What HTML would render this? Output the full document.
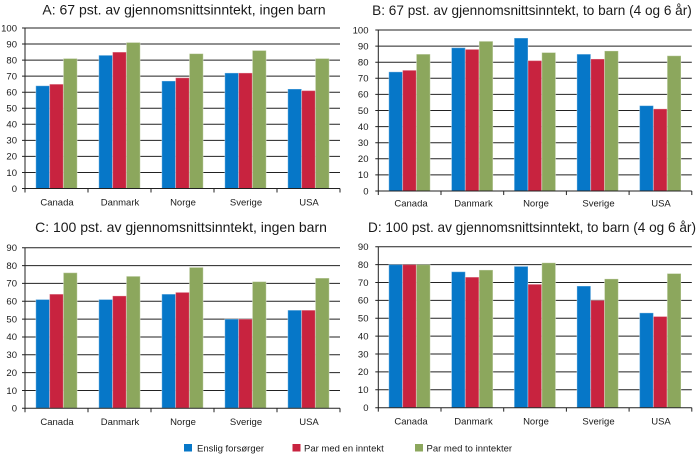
<!DOCTYPE html>
<html><head><meta charset="utf-8"><style>
html,body{margin:0;padding:0;background:#fff;}
svg{display:block;}
text{font-family:"Liberation Sans",Arial,sans-serif;fill:#1a1a1a;}
.t{font-size:14px;text-anchor:middle;}
.t2{font-size:13.6px;text-anchor:middle;}
.y{font-size:9.5px;text-anchor:end;}
.c{font-size:9.5px;text-anchor:middle;}
.l{font-size:9.5px;}
.g line{stroke:#222;stroke-width:1;vector-effect:non-scaling-stroke;}
.b rect{stroke:rgba(255,255,255,0.35);stroke-width:1;vector-effect:non-scaling-stroke;}
.bl{fill:#0677c8;} .rd{fill:#c8233f;} .gr{fill:#8ca75d;}
</style></head><body>
<svg width="700" height="455" viewBox="0 0 700 455" xmlns="http://www.w3.org/2000/svg">
<!-- Panel A -->
<text class="t" x="184" y="14.5">A: 67 pst. av gjennomsnittsinntekt, ingen barn</text>
<g transform="translate(25,188.5) scale(1,-1.605)">
 <g class="g">
  <line x1="-3" x2="315" y1="10" y2="10"/><line x1="-3" x2="315" y1="20" y2="20"/><line x1="-3" x2="315" y1="30" y2="30"/><line x1="-3" x2="315" y1="40" y2="40"/><line x1="-3" x2="315" y1="50" y2="50"/><line x1="-3" x2="315" y1="60" y2="60"/><line x1="-3" x2="315" y1="70" y2="70"/><line x1="-3" x2="315" y1="80" y2="80"/><line x1="-3" x2="315" y1="90" y2="90"/><line x1="-3" x2="315" y1="100" y2="100"/>
 </g>
 <g class="b">
  <rect class="bl" x="10.8" y="0" width="13.8" height="64"/><rect class="rd" x="24.6" y="0" width="13.8" height="65"/><rect class="gr" x="38.4" y="0" width="13.8" height="81"/>
  <rect class="bl" x="73.8" y="0" width="13.8" height="83"/><rect class="rd" x="87.6" y="0" width="13.8" height="85"/><rect class="gr" x="101.4" y="0" width="13.8" height="91"/>
  <rect class="bl" x="136.8" y="0" width="13.8" height="67"/><rect class="rd" x="150.6" y="0" width="13.8" height="69"/><rect class="gr" x="164.4" y="0" width="13.8" height="84"/>
  <rect class="bl" x="199.8" y="0" width="13.8" height="72"/><rect class="rd" x="213.6" y="0" width="13.8" height="72"/><rect class="gr" x="227.4" y="0" width="13.8" height="86"/>
  <rect class="bl" x="262.8" y="0" width="13.8" height="62"/><rect class="rd" x="276.6" y="0" width="13.8" height="61"/><rect class="gr" x="290.4" y="0" width="13.8" height="81"/>
 </g>
 <g class="g">
  <line x1="0" x2="0" y1="0" y2="100"/><line x1="-3" x2="315" y1="0" y2="0"/>
  <line x1="0" x2="0" y1="0" y2="-2.5"/><line x1="63" x2="63" y1="0" y2="-2.5"/><line x1="126" x2="126" y1="0" y2="-2.5"/><line x1="189" x2="189" y1="0" y2="-2.5"/><line x1="252" x2="252" y1="0" y2="-2.5"/><line x1="315" x2="315" y1="0" y2="-2.5"/>
 </g>
</g>
<text class="y" x="17" y="191.8">0</text><text class="y" x="17" y="175.8">10</text><text class="y" x="17" y="159.7">20</text><text class="y" x="17" y="143.7">30</text><text class="y" x="17" y="127.6">40</text><text class="y" x="17" y="111.6">50</text><text class="y" x="17" y="95.5">60</text><text class="y" x="17" y="79.5">70</text><text class="y" x="17" y="63.4">80</text><text class="y" x="17" y="47.4">90</text><text class="y" x="17" y="31.3">100</text>
<text class="c" x="57" y="205.5">Canada</text><text class="c" x="120" y="205.5">Danmark</text><text class="c" x="183" y="205.5">Norge</text><text class="c" x="246" y="205.5">Sverige</text><text class="c" x="309" y="205.5">USA</text>

<!-- Panel B -->
<text class="t2" x="532" y="15">B: 67 pst. av gjennomsnittsinntekt, to barn (4 og 6 år)</text>
<g transform="translate(378.3,191) scale(1,-1.61)">
 <g class="g">
  <line x1="-3" x2="313.5" y1="10" y2="10"/><line x1="-3" x2="313.5" y1="20" y2="20"/><line x1="-3" x2="313.5" y1="30" y2="30"/><line x1="-3" x2="313.5" y1="40" y2="40"/><line x1="-3" x2="313.5" y1="50" y2="50"/><line x1="-3" x2="313.5" y1="60" y2="60"/><line x1="-3" x2="313.5" y1="70" y2="70"/><line x1="-3" x2="313.5" y1="80" y2="80"/><line x1="-3" x2="313.5" y1="90" y2="90"/><line x1="-3" x2="313.5" y1="100" y2="100"/>
 </g>
 <g class="b">
  <rect class="bl" x="10.5" y="0" width="13.8" height="74"/><rect class="rd" x="24.3" y="0" width="13.8" height="75"/><rect class="gr" x="38.1" y="0" width="13.8" height="85"/>
  <rect class="bl" x="73.2" y="0" width="13.8" height="89"/><rect class="rd" x="87" y="0" width="13.8" height="88"/><rect class="gr" x="100.8" y="0" width="13.8" height="93"/>
  <rect class="bl" x="135.9" y="0" width="13.8" height="95"/><rect class="rd" x="149.7" y="0" width="13.8" height="81"/><rect class="gr" x="163.5" y="0" width="13.8" height="86"/>
  <rect class="bl" x="198.6" y="0" width="13.8" height="85"/><rect class="rd" x="212.4" y="0" width="13.8" height="82"/><rect class="gr" x="226.2" y="0" width="13.8" height="87"/>
  <rect class="bl" x="261.3" y="0" width="13.8" height="53"/><rect class="rd" x="275.1" y="0" width="13.8" height="51"/><rect class="gr" x="288.9" y="0" width="13.8" height="84"/>
 </g>
 <g class="g">
  <line x1="0" x2="0" y1="0" y2="100"/><line x1="-3" x2="313.5" y1="0" y2="0"/>
  <line x1="0" x2="0" y1="0" y2="-2.5"/><line x1="62.7" x2="62.7" y1="0" y2="-2.5"/><line x1="125.4" x2="125.4" y1="0" y2="-2.5"/><line x1="188.1" x2="188.1" y1="0" y2="-2.5"/><line x1="250.8" x2="250.8" y1="0" y2="-2.5"/><line x1="313.5" x2="313.5" y1="0" y2="-2.5"/>
 </g>
</g>
<text class="y" x="368.5" y="194.3">0</text><text class="y" x="368.5" y="178.2">10</text><text class="y" x="368.5" y="162.1">20</text><text class="y" x="368.5" y="146">30</text><text class="y" x="368.5" y="129.9">40</text><text class="y" x="368.5" y="113.8">50</text><text class="y" x="368.5" y="97.7">60</text><text class="y" x="368.5" y="81.6">70</text><text class="y" x="368.5" y="65.5">80</text><text class="y" x="368.5" y="49.4">90</text><text class="y" x="368.5" y="33.3">100</text>
<text class="c" x="411" y="206.5">Canada</text><text class="c" x="473.5" y="206.5">Danmark</text><text class="c" x="536" y="206.5">Norge</text><text class="c" x="598.5" y="206.5">Sverige</text><text class="c" x="661" y="206.5">USA</text>

<!-- Panel C -->
<text class="t" x="181" y="232">C: 100 pst. av gjennomsnittsinntekt, ingen barn</text>
<g transform="translate(25,408.3) scale(1,-1.784)">
 <g class="g">
  <line x1="-3" x2="315" y1="10" y2="10"/><line x1="-3" x2="315" y1="20" y2="20"/><line x1="-3" x2="315" y1="30" y2="30"/><line x1="-3" x2="315" y1="40" y2="40"/><line x1="-3" x2="315" y1="50" y2="50"/><line x1="-3" x2="315" y1="60" y2="60"/><line x1="-3" x2="315" y1="70" y2="70"/><line x1="-3" x2="315" y1="80" y2="80"/><line x1="-3" x2="315" y1="90" y2="90"/>
 </g>
 <g class="b">
  <rect class="bl" x="10.8" y="0" width="13.8" height="61"/><rect class="rd" x="24.6" y="0" width="13.8" height="64"/><rect class="gr" x="38.4" y="0" width="13.8" height="76"/>
  <rect class="bl" x="73.8" y="0" width="13.8" height="61"/><rect class="rd" x="87.6" y="0" width="13.8" height="63"/><rect class="gr" x="101.4" y="0" width="13.8" height="74"/>
  <rect class="bl" x="136.8" y="0" width="13.8" height="64"/><rect class="rd" x="150.6" y="0" width="13.8" height="65"/><rect class="gr" x="164.4" y="0" width="13.8" height="79"/>
  <rect class="bl" x="199.8" y="0" width="13.8" height="50"/><rect class="rd" x="213.6" y="0" width="13.8" height="50"/><rect class="gr" x="227.4" y="0" width="13.8" height="71"/>
  <rect class="bl" x="262.8" y="0" width="13.8" height="55"/><rect class="rd" x="276.6" y="0" width="13.8" height="55"/><rect class="gr" x="290.4" y="0" width="13.8" height="73"/>
 </g>
 <g class="g">
  <line x1="0" x2="0" y1="0" y2="90"/><line x1="-3" x2="315" y1="0" y2="0"/>
  <line x1="0" x2="0" y1="0" y2="-2.2"/><line x1="63" x2="63" y1="0" y2="-2.2"/><line x1="126" x2="126" y1="0" y2="-2.2"/><line x1="189" x2="189" y1="0" y2="-2.2"/><line x1="252" x2="252" y1="0" y2="-2.2"/><line x1="315" x2="315" y1="0" y2="-2.2"/>
 </g>
</g>
<text class="y" x="17" y="411.6">0</text><text class="y" x="17" y="393.8">10</text><text class="y" x="17" y="375.9">20</text><text class="y" x="17" y="358.1">30</text><text class="y" x="17" y="340.2">40</text><text class="y" x="17" y="322.4">50</text><text class="y" x="17" y="304.6">60</text><text class="y" x="17" y="286.7">70</text><text class="y" x="17" y="268.9">80</text><text class="y" x="17" y="251">90</text>
<text class="c" x="57" y="425">Canada</text><text class="c" x="120" y="425">Danmark</text><text class="c" x="183" y="425">Norge</text><text class="c" x="246" y="425">Sverige</text><text class="c" x="309" y="425">USA</text>

<!-- Panel D -->
<text class="t2" x="532" y="232">D: 100 pst. av gjennomsnittsinntekt, to barn (4 og 6 år)</text>
<g transform="translate(378.3,407.7) scale(1,-1.789)">
 <g class="g">
  <line x1="-3" x2="313.5" y1="10" y2="10"/><line x1="-3" x2="313.5" y1="20" y2="20"/><line x1="-3" x2="313.5" y1="30" y2="30"/><line x1="-3" x2="313.5" y1="40" y2="40"/><line x1="-3" x2="313.5" y1="50" y2="50"/><line x1="-3" x2="313.5" y1="60" y2="60"/><line x1="-3" x2="313.5" y1="70" y2="70"/><line x1="-3" x2="313.5" y1="80" y2="80"/><line x1="-3" x2="313.5" y1="90" y2="90"/>
 </g>
 <g class="b">
  <rect class="bl" x="10.5" y="0" width="13.8" height="80"/><rect class="rd" x="24.3" y="0" width="13.8" height="80"/><rect class="gr" x="38.1" y="0" width="13.8" height="80"/>
  <rect class="bl" x="73.2" y="0" width="13.8" height="76"/><rect class="rd" x="87" y="0" width="13.8" height="73"/><rect class="gr" x="100.8" y="0" width="13.8" height="77"/>
  <rect class="bl" x="135.9" y="0" width="13.8" height="79"/><rect class="rd" x="149.7" y="0" width="13.8" height="69"/><rect class="gr" x="163.5" y="0" width="13.8" height="81"/>
  <rect class="bl" x="198.6" y="0" width="13.8" height="68"/><rect class="rd" x="212.4" y="0" width="13.8" height="60"/><rect class="gr" x="226.2" y="0" width="13.8" height="72"/>
  <rect class="bl" x="261.3" y="0" width="13.8" height="53"/><rect class="rd" x="275.1" y="0" width="13.8" height="51"/><rect class="gr" x="288.9" y="0" width="13.8" height="75"/>
 </g>
 <g class="g">
  <line x1="0" x2="0" y1="0" y2="90"/><line x1="-3" x2="313.5" y1="0" y2="0"/>
  <line x1="0" x2="0" y1="0" y2="-2.2"/><line x1="62.7" x2="62.7" y1="0" y2="-2.2"/><line x1="125.4" x2="125.4" y1="0" y2="-2.2"/><line x1="188.1" x2="188.1" y1="0" y2="-2.2"/><line x1="250.8" x2="250.8" y1="0" y2="-2.2"/><line x1="313.5" x2="313.5" y1="0" y2="-2.2"/>
 </g>
</g>
<text class="y" x="368.5" y="411">0</text><text class="y" x="368.5" y="393.1">10</text><text class="y" x="368.5" y="375.2">20</text><text class="y" x="368.5" y="357.3">30</text><text class="y" x="368.5" y="339.4">40</text><text class="y" x="368.5" y="321.6">50</text><text class="y" x="368.5" y="303.7">60</text><text class="y" x="368.5" y="285.8">70</text><text class="y" x="368.5" y="267.9">80</text><text class="y" x="368.5" y="250">90</text>
<text class="c" x="411" y="424.5">Canada</text><text class="c" x="473.5" y="424.5">Danmark</text><text class="c" x="536" y="424.5">Norge</text><text class="c" x="598.5" y="424.5">Sverige</text><text class="c" x="661" y="424.5">USA</text>

<!-- Legend -->
<rect class="bl" x="184" y="444" width="8" height="7.5"/><text class="l" x="197" y="451.5">Enslig forsørger</text>
<rect class="rd" x="292.5" y="444" width="8" height="7.5"/><text class="l" x="304" y="451.5">Par med en inntekt</text>
<rect class="gr" x="415" y="444" width="8" height="7.5"/><text class="l" x="426.5" y="451.5">Par med to inntekter</text>
</svg>
</body></html>
